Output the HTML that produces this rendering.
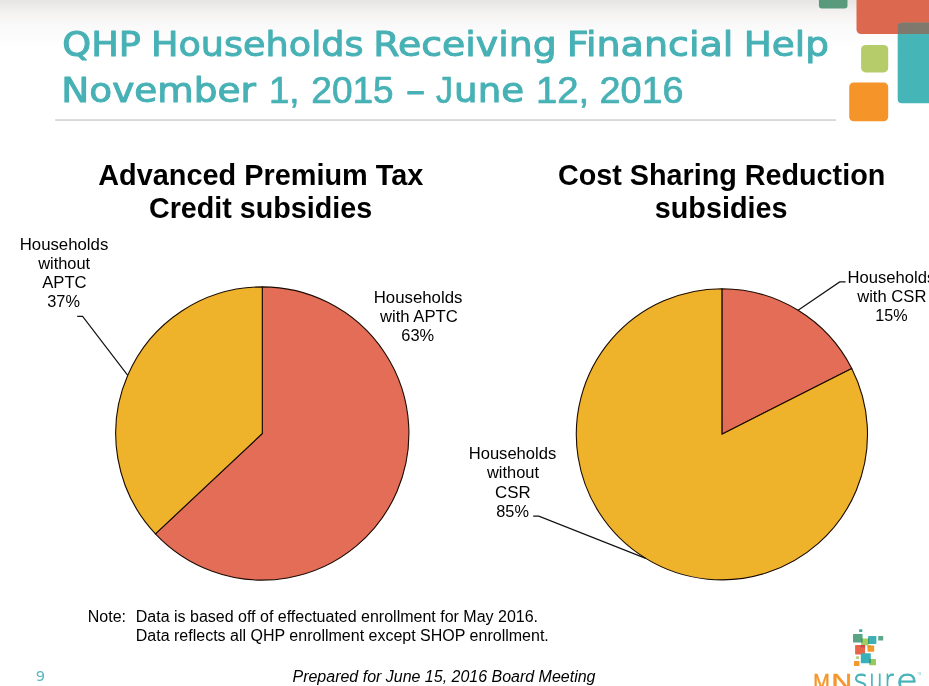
<!DOCTYPE html>
<html lang="en">
<head>
<meta charset="utf-8">
<title>QHP Households Receiving Financial Help</title>
<style>
html,body{margin:0;padding:0;background:#fff;}
body{width:929px;height:686px;overflow:hidden;position:relative;}
svg{display:block;position:absolute;left:0;top:0;}
text{white-space:pre;}
.ttl{font-family:"DejaVu Sans","Liberation Sans",sans-serif;font-size:34.5px;font-weight:normal;font-style:normal;fill:#47b1b5;stroke:#47b1b5;stroke-width:1.0px;stroke-linejoin:round;}
.ttd{font-family:"Liberation Sans",sans-serif;font-size:36px;font-weight:normal;font-style:normal;fill:#47b1b5;stroke:#47b1b5;stroke-width:0.7px;stroke-linejoin:round;}
.ct{font-family:"Liberation Sans",sans-serif;font-size:29px;font-weight:bold;font-style:normal;fill:#000;}
.lb{font-family:"Liberation Sans",sans-serif;font-size:16.4px;font-weight:normal;font-style:normal;fill:#000;}
.nt{font-family:"Liberation Sans",sans-serif;font-size:16px;font-weight:normal;font-style:normal;fill:#000;}
.ft{font-family:"Liberation Sans",sans-serif;font-size:16px;font-weight:normal;font-style:italic;fill:#000;}
.pg{font-family:"DejaVu Sans","Liberation Sans",sans-serif;font-size:14.6px;font-weight:normal;font-style:normal;fill:#5cb9bd;}
.mn{font-family:"Liberation Sans",sans-serif;font-size:22px;font-weight:normal;font-style:normal;fill:#f5962a;stroke:#f5962a;stroke-width:0.5px;stroke-linejoin:round;}
.su{font-family:"DejaVu Sans","Liberation Sans",sans-serif;font-size:31px;font-weight:200;font-style:normal;fill:#45b3b7;stroke:#45b3b7;stroke-width:0.9px;stroke-linejoin:round;}
.ld{fill:none;stroke:#111;stroke-width:1.15px;}
</style>
</head>
<body>
<svg width="929" height="686" viewBox="0 0 929 686">
  <defs>
    <linearGradient id="bg" x1="0" y1="0" x2="0" y2="1">
      <stop offset="0" stop-color="#e7e5e2"/>
      <stop offset="0.07" stop-color="#ebe9e7"/>
      <stop offset="0.18" stop-color="#f1f0ee"/>
      <stop offset="0.32" stop-color="#f7f6f5"/>
      <stop offset="0.5" stop-color="#fbfafa"/>
      <stop offset="0.8" stop-color="#fefefe"/>
      <stop offset="1" stop-color="#ffffff"/>
    </linearGradient>
  </defs>
  <rect x="0" y="0" width="929" height="686" fill="#fff"/>
  <rect x="0" y="0" width="929" height="56" fill="url(#bg)"/>

  <!-- corner decoration -->
  <rect x="818.9" y="-8" width="28.6" height="16.5" rx="3" fill="#5a9a7c"/>
  <rect x="856.5" y="-10" width="90" height="44.1" rx="4.5" fill="#db684f"/>
  <rect x="897.7" y="22.7" width="50" height="80.6" rx="4" fill="#46b5b8"/>
  <path d="M897.7 34.1 L897.7 26.7 A4 4 0 0 1 901.7 22.7 L929 22.7 L929 34.1 Z" fill="#7f786d"/>
  <rect x="861.1" y="44.9" width="27.1" height="27.5" rx="4.5" fill="#b6cc6a"/>
  <rect x="849.2" y="82.5" width="39" height="38.8" rx="4.5" fill="#f59529"/>

  <!-- slide title -->
  <text><tspan class="ttl" x="62.30" y="56" textLength="78.70" lengthAdjust="spacingAndGlyphs">QHP</tspan> <tspan class="ttl" x="150.90" y="56" textLength="212.80" lengthAdjust="spacingAndGlyphs">Households</tspan> <tspan class="ttl" x="373.30" y="56" textLength="183.39" lengthAdjust="spacingAndGlyphs">Receiving</tspan> <tspan class="ttl" x="566.80" y="56" textLength="166.65" lengthAdjust="spacingAndGlyphs">Financial</tspan> <tspan class="ttl" x="743.70" y="56" textLength="85.25" lengthAdjust="spacingAndGlyphs">Help</tspan> <tspan class="ttl" x="61.30" y="102" textLength="194.72" lengthAdjust="spacingAndGlyphs">November</tspan> <tspan class="ttd" x="268.90" y="103" textLength="30.70" lengthAdjust="spacingAndGlyphs">1,</tspan> <tspan class="ttd" x="311.30" y="103" textLength="82.35" lengthAdjust="spacingAndGlyphs">2015</tspan> <tspan class="ttl" x="406.10" y="102" textLength="19.17" lengthAdjust="spacingAndGlyphs">–</tspan> <tspan class="ttd" x="435.90" y="103" textLength="16.95" lengthAdjust="spacingAndGlyphs">J</tspan><tspan class="ttl" x="454.10" y="102" textLength="69.96" lengthAdjust="spacingAndGlyphs">une</tspan> <tspan class="ttd" x="535.90" y="103" textLength="53.20" lengthAdjust="spacingAndGlyphs">12,</tspan> <tspan class="ttd" x="599.50" y="103" textLength="84.09" lengthAdjust="spacingAndGlyphs">2016</tspan></text>
  <rect x="55.2" y="119.3" width="780.8" height="1.5" fill="#cfcfcf"/>

  <!-- chart titles -->
  <text><tspan class="ct" x="98.26" y="185" textLength="325.10" lengthAdjust="spacingAndGlyphs">Advanced Premium Tax</tspan> <tspan class="ct" x="149.00" y="218" textLength="223.09" lengthAdjust="spacingAndGlyphs">Credit subsidies</tspan></text>
  <text><tspan class="ct" x="557.90" y="185" textLength="327.37" lengthAdjust="spacingAndGlyphs">Cost Sharing Reduction</tspan> <tspan class="ct" x="654.80" y="218" textLength="132.66" lengthAdjust="spacingAndGlyphs">subsidies</tspan></text>

  <!-- pie 1 -->
  <g stroke="#1a0a00" stroke-width="1.1" stroke-linejoin="round">
    <path d="M262.3 433.5 L262.30 286.90 A146.6 146.6 0 1 1 155.43 533.85 Z" fill="#e36d56"/>
    <path d="M262.3 433.5 L155.43 533.85 A146.6 146.6 0 0 1 262.30 286.90 Z" fill="#eeb32b"/>
  </g>
  <polyline class="ld" points="77.2,316.4 82.6,316.4 127.76,375.28"/>
  <!-- pie 2 -->
  <g stroke="#1a0a00" stroke-width="1.1" stroke-linejoin="round">
    <path d="M721.9 434.3 L721.90 288.70 A145.6 145.6 0 0 1 851.75 368.43 Z" fill="#e36d56"/>
    <path d="M721.9 434.3 L851.75 368.43 A145.6 145.6 0 1 1 721.90 288.70 Z" fill="#eeb32b"/>
  </g>
  <polyline class="ld" points="845.6,281.9 839.7,281.9 798.08,310.22"/>
  <polyline class="ld" points="533.2,516.1 538.8,516.1 645.72,558.38"/>

  <!-- data labels -->
  <text><tspan class="lb" x="19.70" y="250" textLength="88.60" lengthAdjust="spacingAndGlyphs">Households</tspan> <tspan class="lb" x="38.20" y="269" textLength="51.98" lengthAdjust="spacingAndGlyphs">without</tspan> <tspan class="lb" x="42.20" y="288" textLength="44.42" lengthAdjust="spacingAndGlyphs">APTC</tspan> <tspan class="lb" x="47.29" y="307" textLength="32.72" lengthAdjust="spacingAndGlyphs">37%</tspan></text>
  <text><tspan class="lb" x="373.70" y="303" textLength="88.70" lengthAdjust="spacingAndGlyphs">Households</tspan> <tspan class="lb" x="379.90" y="322" textLength="77.93" lengthAdjust="spacingAndGlyphs">with APTC</tspan> <tspan class="lb" x="401.30" y="341" textLength="32.89" lengthAdjust="spacingAndGlyphs">63%</tspan></text>
  <text><tspan class="lb" x="847.50" y="283" textLength="87.79" lengthAdjust="spacingAndGlyphs">Households</tspan> <tspan class="lb" x="857.20" y="302" textLength="69.20" lengthAdjust="spacingAndGlyphs">with CSR</tspan> <tspan class="lb" x="875.30" y="321" textLength="32.36" lengthAdjust="spacingAndGlyphs">15%</tspan></text>
  <text><tspan class="lb" x="468.70" y="459" textLength="87.59" lengthAdjust="spacingAndGlyphs">Households</tspan> <tspan class="lb" x="487.00" y="478" textLength="51.98" lengthAdjust="spacingAndGlyphs">without</tspan> <tspan class="lb" x="495.05" y="498" textLength="35.59" lengthAdjust="spacingAndGlyphs">CSR</tspan> <tspan class="lb" x="496.24" y="517" textLength="32.67" lengthAdjust="spacingAndGlyphs">85%</tspan></text>

  <!-- note -->
  <text><tspan class="nt" x="87.80" y="622" textLength="38.24" lengthAdjust="spacingAndGlyphs">Note:</tspan> <tspan class="nt" x="135.80" y="622" textLength="402.22" lengthAdjust="spacingAndGlyphs">Data is based off of effectuated enrollment for May 2016.</tspan> <tspan class="nt" x="135.80" y="641" textLength="412.98" lengthAdjust="spacingAndGlyphs">Data reflects all QHP enrollment except SHOP enrollment.</tspan></text>

  <!-- footer -->
  <text class="ft" x="292.50" y="682.00" textLength="302.97" lengthAdjust="spacingAndGlyphs">Prepared for June 15, 2016 Board Meeting</text>
  <text class="pg" x="35.85" y="681.00" textLength="9.42" lengthAdjust="spacingAndGlyphs">9</text>

  <!-- logo -->
  <g>
    <rect x="859.1" y="629.2" width="3.3" height="2.7" rx="0.5" fill="#4aa89a"/>
    <rect x="853" y="633.9" width="9.6" height="8.7" rx="0.7" fill="#58a585"/>
    <rect x="861.1" y="638.4" width="7.4" height="7" rx="0.7" fill="#a5cc60"/>
    <rect x="861.1" y="638.4" width="1.5" height="4.2" fill="#3f9a5c"/>
    <rect x="868.1" y="636.1" width="8.3" height="7.9" rx="0.7" fill="#40b0b8"/>
    <rect x="868.1" y="638.4" width="1" height="5.6" fill="#2f9c66"/>
    <rect x="878.2" y="635.9" width="5" height="4.7" rx="0.6" fill="#5ca888"/>
    <rect x="855.1" y="645.1" width="10" height="9.4" rx="0.7" fill="#e8654a"/>
    <rect x="860.4" y="645.1" width="4.7" height="2.3" fill="#c8464e"/>
    <rect x="867.5" y="645.4" width="6.7" height="6.4" rx="0.7" fill="#f5982a"/>
    <rect x="867.5" y="645.4" width="3.5" height="2" fill="#cf9a34"/>
    <rect x="860.8" y="653.2" width="10" height="10" rx="0.7" fill="#3ab0b8"/>
    <rect x="856.1" y="656.2" width="3" height="2.7" rx="0.5" fill="#b0d080"/>
    <rect x="854" y="660.9" width="5.4" height="5" rx="0.6" fill="#f5982a"/>
    <rect x="869.1" y="658.9" width="6.9" height="6.3" rx="0.7" fill="#98c860"/>
    <rect x="869.1" y="658.9" width="1.7" height="4.3" fill="#2f9c66"/>
  </g>
  <text><tspan class="mn" x="813.20" y="689" textLength="16.50" lengthAdjust="spacingAndGlyphs">M</tspan><tspan class="mn" x="831.57" y="689" textLength="20.57" lengthAdjust="spacingAndGlyphs">N</tspan><tspan class="su" x="853.18" y="691" textLength="14.73" lengthAdjust="spacingAndGlyphs">s</tspan><tspan class="su" x="869.05" y="691" textLength="13.60" lengthAdjust="spacingAndGlyphs">u</tspan><tspan class="su" x="884.50" y="691" textLength="8.98" lengthAdjust="spacingAndGlyphs">r</tspan><tspan class="su" x="896.10" y="691" textLength="21.82" lengthAdjust="spacingAndGlyphs">e</tspan></text>
  <text x="917.3" y="674.6" font-family="'Liberation Sans',sans-serif" font-size="2.6" fill="#7cc6c9">TM</text>
</svg>
</body>
</html>
